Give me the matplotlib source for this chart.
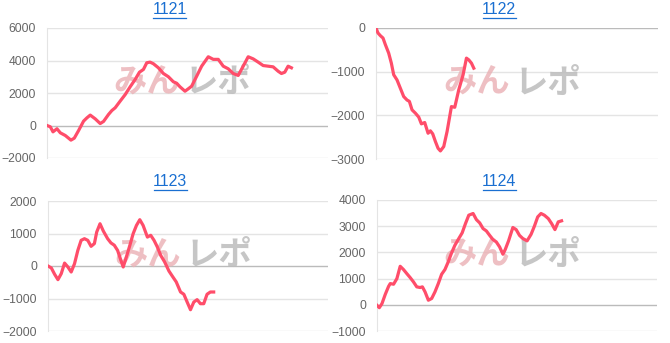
import numpy as np
import matplotlib.pyplot as plt

plt.rcParams['font.family'] = ['Liberation Sans', 'DejaVu Sans']

# ---------------------------------------------------------------------------
# Datos (juegos, diferencia de fichas) por máquina
# ---------------------------------------------------------------------------
titles = ['1121', '1122', '1123', '1124']

games_1121 = [0, 10, 18, 30, 40, 55, 72, 82, 95, 110, 120, 130, 145, 160, 170, 185, 195, 205, 220, 235,
              250, 265, 278, 290, 300, 310, 320, 335, 350, 365, 380, 390, 400, 415, 425, 435, 450, 465, 485, 500,
              515, 530, 545, 560, 575, 590, 605, 620, 635, 650, 665, 680, 695, 705, 715, 725, 735]
diff_1121 = [0, -80, -390, -200, -450, -615, -900, -780, -310, 270, 470, 640, 410, 120, 250, 680, 920, 1090, 1500, 1900,
             2380, 2830, 3280, 3450, 3860, 3900, 3800, 3550, 3200, 3000, 2690, 2600, 2380, 2110, 2260, 2420, 3030, 3650, 4230, 4070,
             4070, 3650, 3490, 3200, 3080, 3650, 4230, 4100, 3900, 3690, 3650, 3610, 3340, 3200, 3280, 3650, 3550]

games_1122 = [0, 6, 13, 21, 28, 38, 46, 53, 63, 73, 83, 93, 100, 108, 118, 128, 136, 146, 156, 163,
              170, 178, 186, 193, 203, 213, 226, 236, 248, 261, 271, 278, 286, 293]
diff_1122 = [0, -115, -175, -230, -380, -575, -805, -1070, -1190, -1380, -1570, -1650, -1680, -1875, -1950, -2040, -2195, -2165, -2410, -2355,
             -2425, -2600, -2755, -2815, -2715, -2370, -1800, -1815, -1415, -1070, -690, -730, -805, -920]

games_1123 = [0, 10, 20, 30, 40, 50, 60, 70, 80, 90, 100, 110, 120, 130, 140, 147, 157, 167, 180, 190,
              200, 210, 220, 227, 235, 247, 257, 267, 277, 287, 300, 310, 320, 330, 340, 352, 365, 377, 387, 400,
              410, 420, 430, 440, 450, 460, 470, 480, 490, 500]
diff_1123 = [0, -60, -255, -420, -235, 90, -30, -185, 70, 480, 790, 840, 790, 605, 690, 1045, 1300, 1075, 840, 710,
             640, 480, 175, -30, 225, 635, 995, 1250, 1425, 1250, 890, 945, 790, 585, 330, 125, -155, -340, -490, -800,
             -870, -1110, -1345, -1110, -1035, -1160, -1160, -870, -800, -800]

games_1124 = [0, 7, 15, 25, 35, 40, 50, 60, 70, 80, 90, 100, 110, 120, 130, 137, 145, 155, 165, 175,
              185, 195, 205, 215, 225, 235, 245, 257, 267, 277, 290, 300, 310, 320, 330, 340, 350, 360, 370, 380,
              387, 397, 410, 420, 430, 440, 453, 465, 475, 485, 495, 505, 517, 527, 537, 547, 557]
diff_1124 = [-20, -110, 45, 400, 705, 810, 785, 1000, 1470, 1345, 1190, 1040, 875, 685, 660, 685, 495, 175, 240, 495,
             810, 1165, 1345, 1640, 1980, 2270, 2490, 2745, 3100, 3420, 3485, 3250, 3125, 2910, 2820, 2650, 2490, 2400, 2210, 1930,
             2110, 2440, 2950, 2870, 2650, 2530, 2440, 2690, 3000, 3355, 3485, 3420, 3290, 3100, 2870, 3165, 3205]

ticks_1121 = [-2000, 0, 2000, 4000, 6000]
ticks_1122 = [-3000, -2000, -1000, 0]
ticks_1123 = [-2000, -1000, 0, 1000, 2000]
ticks_1124 = [-1000, 0, 1000, 2000, 3000, 4000]

series = [(games_1121, diff_1121, ticks_1121),
          (games_1122, diff_1122, ticks_1122),
          (games_1123, diff_1123, ticks_1123),
          (games_1124, diff_1124, ticks_1124)]

# posiciones de los ejes en píxeles (izq, der, arriba, abajo)
W, H = 670, 343
boxes = [(47, 328, 28, 158), (376, 658, 28, 159), (48, 328, 201, 331), (377, 657, 200, 331)]
title_y = [10, 10, 182, 182]

line_color = '#ff4d6a'
title_color = '#1a6fd1'
wm_font = ['Noto Sans CJK JP', 'DejaVu Sans']
fig = plt.figure(figsize=(W / 100, H / 100), dpi=100)

for (games, diff, ticks), box, title, ty in zip(series, boxes, titles, title_y):
    l, r, t, b = box
    ax = fig.add_axes([l / W, 1 - b / H, (r - l) / W, (b - t) / H])
    x = np.array(games) * 10
    ax.plot(x, diff, color=line_color, linewidth=2.3, solid_joinstyle='round', zorder=3)
    ax.set_xlim(0, 8450)
    ax.set_ylim(ticks[0], ticks[-1])
    ax.set_yticks(ticks)
    ax.set_xticks([])
    for tk in ticks:
        ax.axhline(tk, color='#bbbbbb' if tk == 0 else '#e4e4e4', linewidth=1.0, zorder=1)
    for s in ['top', 'right', 'bottom']:
        ax.spines[s].set_visible(False)
    ax.spines['left'].set_color('#e4e4e4')
    ax.tick_params(axis='y', length=0, pad=8, labelsize=8.7, labelcolor='#666666')

    # marca de agua
    ax.text(0.475, 0.58, 'みん', transform=ax.transAxes, ha='right', va='center',
            fontsize=24, fontweight='bold', color='#eab0b4', alpha=0.8,
            family=wm_font, zorder=2)
    ax.text(0.49, 0.58, 'レポ', transform=ax.transAxes, ha='left', va='center',
            fontsize=24, fontweight='bold', color='#bcbcbc', alpha=0.85,
            family=wm_font, zorder=2)

    cx = (l + r) / 2 - 18
    fig.text(cx / W, 1 - ty / H, title, ha='center', va='center', fontsize=11.5,
             color=title_color)
    # subrayado del título
    fig.lines.append(plt.Line2D([(cx - 16.5) / W, (cx + 16.5) / W], [1 - (ty + 8) / H] * 2,
                                transform=fig.transFigure, color=title_color, linewidth=0.9))

plt.savefig('out.png', dpi=100)
